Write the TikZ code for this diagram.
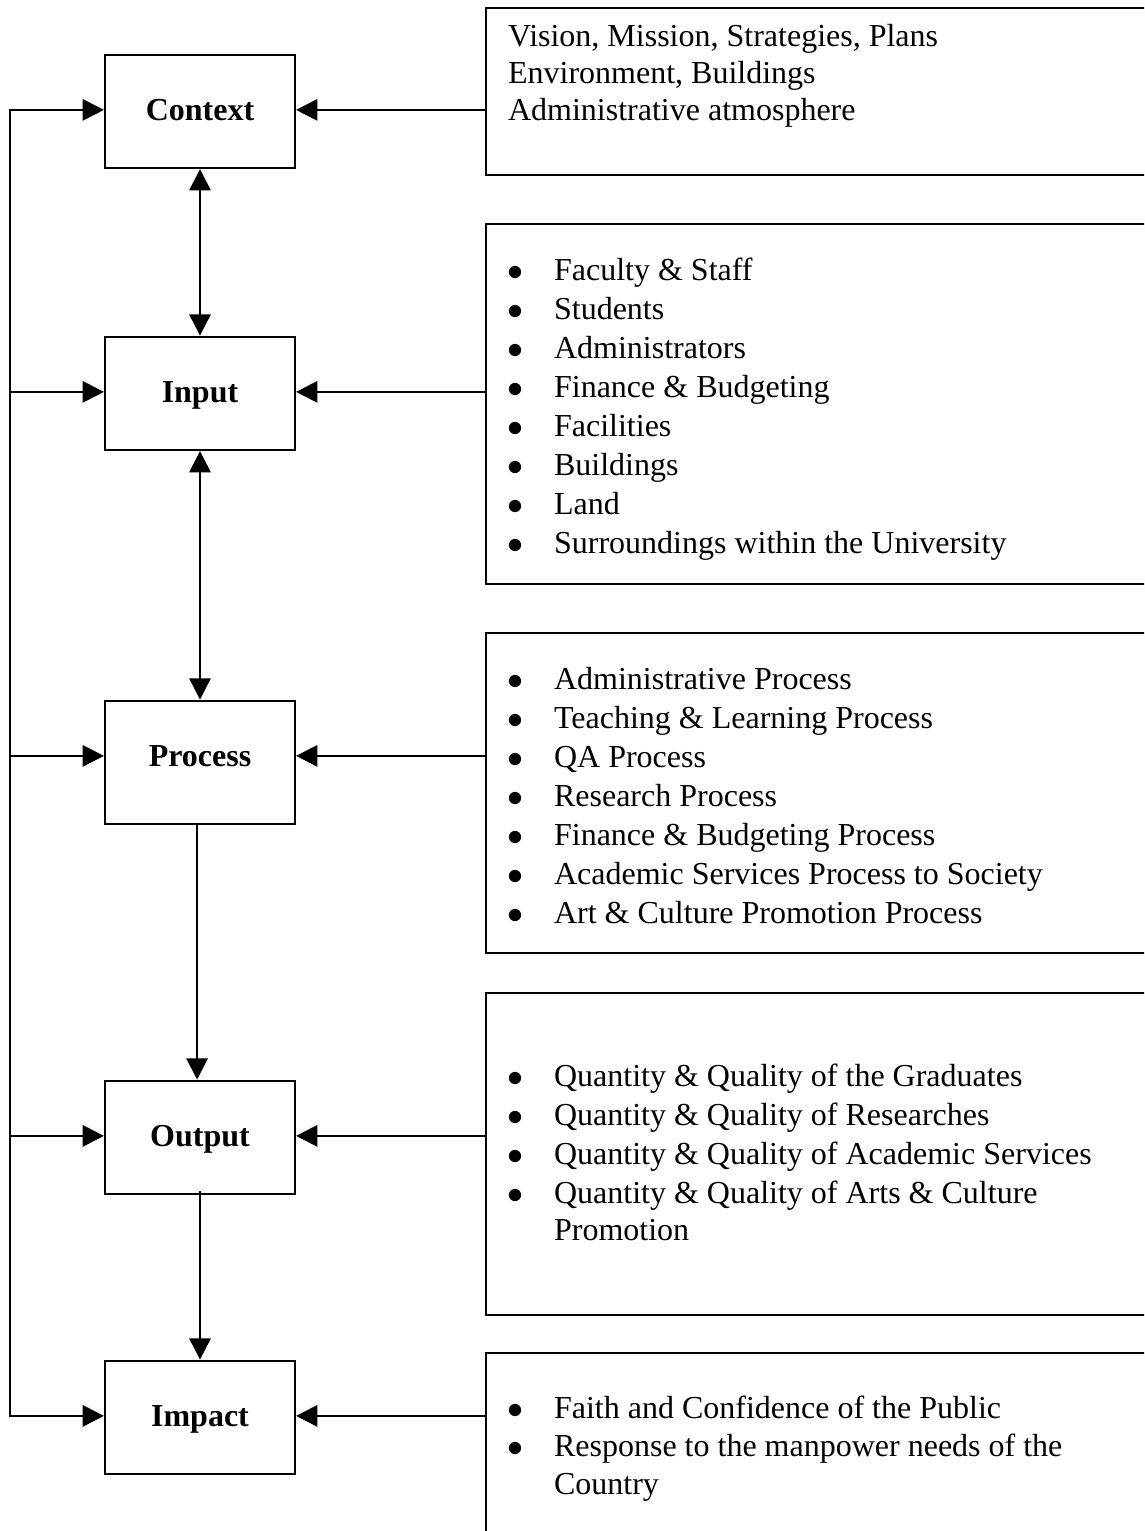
\documentclass[tikz,border=0pt]{standalone}
\usepackage{fontspec}
\setmainfont{Liberation Serif}
\usetikzlibrary{arrows.meta}

\newcommand{\itembullet}{\llap{$\bullet$\hspace{11.6pt}}}

\begin{document}
\begin{tikzpicture}[x=0.375pt,y=-0.375pt,
  line width=0.8pt,
  stage/.style={draw, inner sep=0pt, minimum width=71.25pt,
    text height=24.5pt, text depth=18pt, anchor=base,
    font=\fontsize{12pt}{14pt}\selectfont\bfseries},
  infobox/.style={draw, inner sep=0pt, minimum width=262.5pt, anchor=north west},
  entry/.style={inner sep=0pt, anchor=base west,
    font=\fontsize{12pt}{14pt}\selectfont},
  arr/.style={-{Triangle[length=8pt,width=8pt]}},
  darr/.style={{Triangle[length=8pt,width=8pt]}-{Triangle[length=8pt,width=8pt]}}]

\useasboundingbox (0,0) rectangle (1144,1531);
\clip (0,0) rectangle (1144,1531);

% Stages of the model
\node[stage] (ctx) at (200,120) {Context};
\node[stage] (inp) at (200,402) {Input};
\node[stage, text depth=21.75pt] (proc) at (200,766) {Process};
\node[stage] (outp) at (200,1146) {Output};
\node[stage] (imp) at (200,1426) {Impact};

% Arrow points on the sides of the stages
\foreach \s in {ctx,inp,proc,outp,imp} {
  \coordinate (\s-w) at ([yshift=1.5pt]\s.mid west);
  \coordinate (\s-e) at ([yshift=1.5pt]\s.mid east);
}

% Boxes on the right (cut off at the page edge)
\node[infobox, minimum height=62.6pt] (ctxinfo) at (485,7) {};
\node[infobox, minimum height=135pt] (inpinfo) at (485,223) {};
\node[infobox, minimum height=120pt] (procinfo) at (485,632) {};
\node[infobox, minimum height=120.75pt] (outpinfo) at (485,992) {};
\node[infobox, minimum height=93.75pt] (impinfo) at (485,1352) {};

% Texts of the right boxes
\foreach \y/\t [count=\i] in {47/{Vision, Mission, Strategies, Plans},
    83.5/{Environment, Buildings}, 120/{Administrative atmosphere}}
  \node[entry] (ctxline\i) at (507,\y) {\t};

\foreach \t [count=\i] in {Faculty \& Staff, Students, Administrators,
    Finance \& Budgeting, Facilities, Buildings, Land,
    Surroundings within the University}
  \node[entry] (inpline\i) at (553,241+39*\i) {\itembullet\t};

\foreach \t [count=\i] in {Administrative Process, Teaching \& Learning Process,
    QA Process, Research Process, Finance \& Budgeting Process,
    Academic Services Process to Society, Art \& Culture Promotion Process}
  \node[entry] (procline\i) at (553,650+39*\i) {\itembullet\t};

\foreach \t [count=\i] in {Quantity \& Quality of the Graduates,
    Quantity \& Quality of Researches,
    Quantity \& Quality of Academic Services,
    Quantity \& Quality of Arts \& Culture}
  \node[entry] (outpline\i) at (553,1047+39*\i) {\itembullet\t};
\node[entry] (outpline5) at (553,1240) {Promotion};

\node[entry] (impline1) at (553,1418) {\itembullet Faith and Confidence of the Public};
\node[entry] (impline2) at (553,1456.5) {\itembullet Response to the manpower needs of the};
\node[entry] (impline3) at (553,1494) {Country};

% Arrows from the right boxes
\foreach \s in {ctx,inp,proc,outp,imp}
  \draw[arr] (\s info.west |- \s-e) -- (\s-e);

% Feedback line on the left
\coordinate (bus) at (10,0);
\draw[arr] (bus |- imp-w) |- (ctx-w);
\draw[arr] (bus |- ctx-w) |- (imp-w);
\foreach \s in {inp,proc,outp}
  \draw[arr] (bus |- \s-w) -- (\s-w);

% Vertical arrows between the stages
\draw[darr] (ctx.south) -- (inp.north);
\draw[darr] (inp.south) -- (proc.north);
\draw[arr] ([xshift=-1.1pt]proc.south) -- ([xshift=-1.1pt]outp.north);
\draw[arr] ([yshift=1.5pt]outp.south) -- (imp.north);

\end{tikzpicture}
\end{document}
